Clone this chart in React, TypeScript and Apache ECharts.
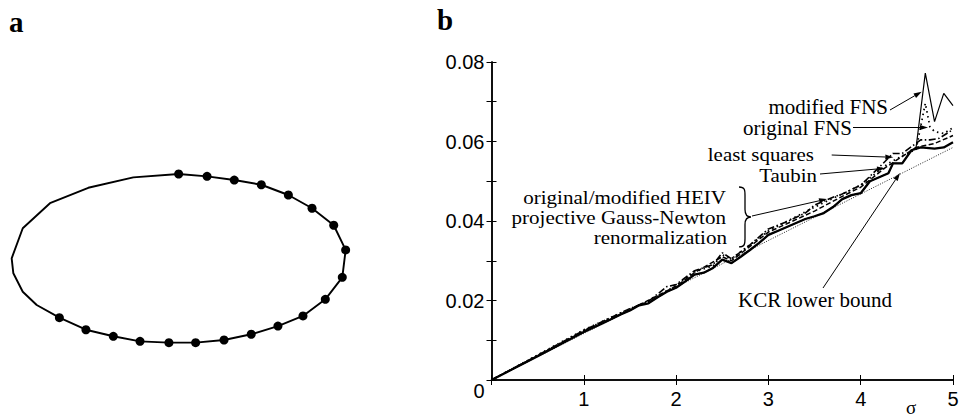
import React, { useEffect, useRef } from "react";
import * as echarts from "echarts";

// Panel a: sample points (dots) on the ellipse, and the ellipse outline vertices
const ellipseDots: [number, number][] = [
  [-0.5, 50.3], [16.4, 48.9], [32.6, 46.7], [48.7, 43.9], [64.8, 37.8],
  [78.9, 29.9], [91.8, 19.8], [98.9, 5.1], [96.9, -11.2], [86.8, -24.3],
  [73.5, -34.2], [58.6, -40.2], [42.7, -45.1], [26.5, -48.5], [9.6, -50.1],
  [-6.3, -50.1], [-23.5, -49.3], [-39.4, -46.3], [-55.7, -42.4], [-71.5, -35.2],
];
const ellipseLeftArc: [number, number][] = [
  [-85.0, -27.7], [-93.3, -19.8], [-98.9, -8.8], [-99.9, 0.1], [-93.3, 18.0],
  [-77.1, 32.9], [-54.3, 42.1], [-27.5, 48.3], [-0.5, 50.3],
];

// Panel b: sigma vs. RMS error
const xTicks = [0, 1, 2, 3, 4, 5];
const kcrBound: [number, number][] = [[0, 0], [5, 0.0585]];
const renormalization: [number, number][] = [
  [0, 0], [0.5, 0.006], [1, 0.0121], [1.2, 0.0142], [1.4, 0.0165], [1.5, 0.0175],
  [1.6, 0.0188], [1.7, 0.0193], [1.8, 0.0208], [1.9, 0.0222], [2, 0.0232],
  [2.1, 0.0248], [2.2, 0.0265], [2.3, 0.027], [2.4, 0.0282], [2.5, 0.0303],
  [2.6, 0.0294], [2.7, 0.031], [2.8, 0.0327], [2.9, 0.0345], [3, 0.0365],
  [3.1, 0.0375], [3.2, 0.0385], [3.3, 0.0395], [3.4, 0.0405], [3.5, 0.0412],
  [3.6, 0.042], [3.7, 0.0435], [3.8, 0.0455], [3.9, 0.0465], [4.0, 0.047],
  [4.1, 0.05], [4.2, 0.051], [4.3, 0.052], [4.35, 0.0545], [4.45, 0.0545],
  [4.55, 0.0578], [4.65, 0.0585], [4.8, 0.0582], [4.9, 0.0585], [5, 0.0598],
];
const modifiedFNSTail: [number, number][] = [
  [4.6, 0.0585], [4.7, 0.0772], [4.8, 0.065], [4.9, 0.0721], [5, 0.069],
];
const originalFNS: [number, number][] = [
  [0, 0], [1, 0.0126], [1.5, 0.0179], [1.7, 0.0197], [2, 0.0238], [2.2, 0.0272],
  [2.4, 0.0287], [2.5, 0.0315], [2.6, 0.0305], [3, 0.0375], [3.5, 0.0435],
  [4, 0.049], [4.3, 0.0545], [4.5, 0.057], [4.6, 0.058], [4.7, 0.0696],
  [4.75, 0.0637], [4.8, 0.0625], [4.9, 0.062], [5, 0.0635],
];
const leastSquares: [number, number][] = [
  [0, 0], [0.5, 0.0062], [1, 0.0125], [1.5, 0.018], [1.7, 0.0198], [1.9, 0.0235],
  [2, 0.024], [2.2, 0.0275], [2.4, 0.029], [2.5, 0.032], [2.6, 0.0305],
  [2.8, 0.034], [3, 0.038], [3.2, 0.0398], [3.4, 0.042], [3.5, 0.044],
  [3.7, 0.046], [3.8, 0.0468], [4, 0.049], [4.2, 0.0535], [4.35, 0.057],
  [4.45, 0.057], [4.55, 0.0587], [4.65, 0.0604], [4.75, 0.0604], [4.85, 0.0608],
  [5, 0.063],
];
const taubin: [number, number][] = [
  [0, 0], [1, 0.0123], [1.5, 0.0177], [2, 0.0236], [2.2, 0.027], [2.5, 0.031],
  [2.6, 0.030], [3, 0.0372], [3.5, 0.0425], [3.8, 0.0462], [4, 0.0485],
  [4.26, 0.0533], [4.4, 0.0555], [4.6, 0.0585], [4.8, 0.0595], [5, 0.0615],
];

echarts.graphic.registerShape(
  "brace",
  echarts.graphic.extendPath(
    "M0,0 C6,0 6,3 6,8 L6,21 C6,25 7,28 12,28 C7,28 6,31 6,35 L6,48 C6,53 6,56 0,56",
    {}
  )
);

function arrow(x1: number, y1: number, x2: number, y2: number) {
  const a = Math.atan2(y2 - y1, x2 - x1);
  const L = 8, W = 2.6;
  const c = Math.cos(a), s = Math.sin(a);
  const bx = x2 - L * c, by = y2 - L * s;
  return [
    { type: "line", shape: { x1, y1, x2: bx, y2: by }, style: { stroke: "#000", lineWidth: 1 } },
    {
      type: "polygon",
      shape: { points: [[x2, y2], [bx + W * s, by - W * c], [bx - W * s, by + W * c]] },
      style: { fill: "#000" },
    },
  ];
}

const serif = "'Liberation Serif', 'Times New Roman', serif";
const sans = "'Liberation Sans', Arial, sans-serif";

function label(text: string, x: number, y: number, align = "right", size = 21, sx = 1) {
  return {
    type: "text",
    x, y, scaleX: sx,
    style: {
      text, fill: "#000", fontSize: size, fontFamily: serif,
      align, verticalAlign: "middle",
    },
  };
}

export default function App() {
  const ref = useRef<HTMLDivElement>(null);
  useEffect(() => {
    if (!ref.current) return;
    const chart = echarts.init(ref.current, null, { renderer: "svg" });
    const axisLine = { show: true, lineStyle: { color: "#000", width: 1.5 } };
    const tick = { show: true, inside: true, length: 5, lineStyle: { color: "#000", width: 1 } };
    const ellipseOutline = [...ellipseDots, ...ellipseLeftArc];
    chart.setOption({
      animation: false,
      backgroundColor: "#fff",
      grid: [
        { left: 11.5, top: 174.5, width: 336, height: 168 },
        { left: 491.5, top: 62, width: 461.5, height: 318 },
      ],
      xAxis: [
        { type: "value", gridIndex: 0, min: -100, max: 100, show: false },
        {
          type: "value", gridIndex: 1, min: xTicks[0], max: xTicks[xTicks.length - 1], interval: 1,
          position: "bottom", axisLine, axisTick: tick, splitLine: { show: false },
          axisLabel: {
            formatter: (v: number) => (v === 0 ? "" : String(v)),
            color: "#000", fontSize: 20, fontFamily: sans, margin: 9,
          },
        },
        {
          type: "value", gridIndex: 1, min: 0, max: 5, interval: 1, position: "top",
          axisLine, axisTick: tick, splitLine: { show: false }, axisLabel: { show: false },
        },
      ],
      yAxis: [
        { type: "value", gridIndex: 0, min: -50, max: 50, show: false },
        {
          type: "value", gridIndex: 1, min: 0, max: 0.08, interval: 0.01, position: "left",
          axisLine, axisTick: tick, splitLine: { show: false },
          axisLabel: {
            formatter: (v: number) => {
              const k = Math.round(v * 100);
              if (k === 0) return "{z|0}";
              if (k % 2 === 1) return "";
              return (k / 100).toFixed(2);
            },
            color: "#000", fontSize: 20, fontFamily: sans, margin: 7,
            rich: { z: { fontSize: 20, fontFamily: sans, color: "#000", padding: [22, 0, 0, 0] } },
          },
        },
        {
          type: "value", gridIndex: 1, min: 0, max: 0.08, interval: 0.01, position: "right",
          axisLine, axisTick: tick, splitLine: { show: false }, axisLabel: { show: false },
        },
      ],
      series: [
        {
          type: "line", xAxisIndex: 0, yAxisIndex: 0, data: ellipseOutline, showSymbol: false,
          lineStyle: { color: "#000", width: 1.9 }, clip: false,
        },
        {
          type: "scatter", xAxisIndex: 0, yAxisIndex: 0, data: ellipseDots, symbolSize: 9,
          itemStyle: { color: "#000", opacity: 1 }, clip: false,
        },
        {
          name: "KCR lower bound", type: "line", xAxisIndex: 1, yAxisIndex: 1, data: kcrBound,
          showSymbol: false, lineStyle: { color: "#222", width: 1, type: [1, 1.5] },
        },
        {
          name: "modified FNS", type: "line", xAxisIndex: 1, yAxisIndex: 1,
          data: [...renormalization.filter((p) => p[0] < 4.6), ...modifiedFNSTail],
          showSymbol: false, lineStyle: { color: "#000", width: 1.2 },
        },
        {
          name: "original FNS", type: "line", xAxisIndex: 1, yAxisIndex: 1, data: originalFNS,
          showSymbol: false, lineStyle: { color: "#000", width: 1.8, type: [1.5, 3.5] },
        },
        {
          name: "least squares", type: "line", xAxisIndex: 1, yAxisIndex: 1, data: leastSquares,
          showSymbol: false, lineStyle: { color: "#000", width: 1.6, type: [7, 2.5, 1.5, 2.5] },
        },
        {
          name: "Taubin", type: "line", xAxisIndex: 1, yAxisIndex: 1, data: taubin,
          showSymbol: false, lineStyle: { color: "#000", width: 1.5, type: [5, 2.5] },
        },
        {
          name: "renormalization", type: "line", xAxisIndex: 1, yAxisIndex: 1, data: renormalization,
          showSymbol: false, lineStyle: { color: "#000", width: 2.3 },
        },
      ],
      graphic: [
        { type: "text", x: 9, y: 22, style: { text: "a", fill: "#000", font: `bold 29px ${serif}`, verticalAlign: "middle" } },
        { type: "text", x: 437, y: 20, style: { text: "b", fill: "#000", font: `bold 29px ${serif}`, verticalAlign: "middle" } },
        label("modified FNS", 888, 107),
        label("original FNS", 852, 128),
        label("least squares", 814, 154, "right", 19, 1.1),
        label("Taubin", 817, 175.5, "right", 19, 1.1),
        label("original/modified HEIV", 726, 198, "right", 18, 1.17),
        label("projective Gauss-Newton", 726, 218, "right", 18, 1.17),
        label("renormalization", 727, 238, "right", 18, 1.17),
        label("KCR lower bound", 738, 300, "left"),
        label("σ", 911, 407, "center", 19),
        ...arrow(890, 110, 921.7, 91.7),
        ...arrow(853, 127.5, 928, 127.5),
        ...arrow(831.7, 155, 893.3, 157.3),
        ...arrow(820, 174, 885, 168.3),
        ...arrow(752, 216, 827, 199),
        ...arrow(823, 288, 900, 173),
        {
          type: "brace", x: 739, y: 187, scaleX: 1, scaleY: 1.07,
          style: { stroke: "#000", fill: "none", lineWidth: 1.3 },
        },
      ],
    });
    return () => chart.dispose();
  }, []);
  return (
    <div
      ref={ref}
      style={{ position: "fixed", left: 0, top: 0, width: 964, height: 418, background: "#fff" }}
    />
  );
}
